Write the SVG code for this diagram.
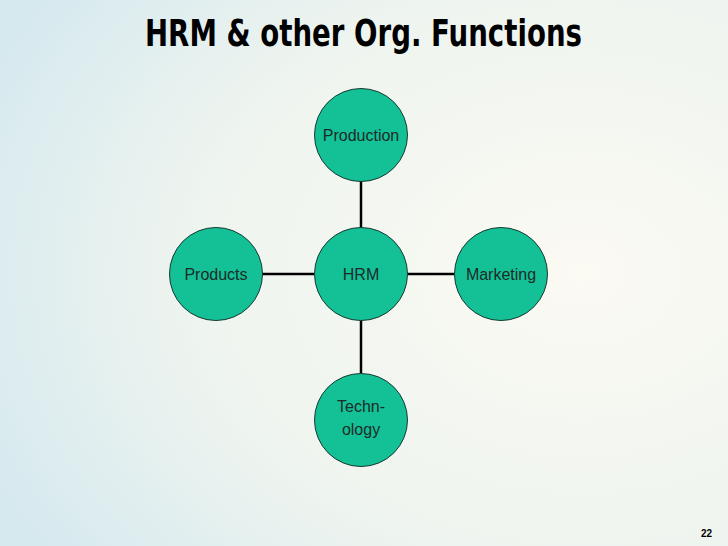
<svg xmlns="http://www.w3.org/2000/svg" width="728" height="546" viewBox="0 0 728 546">
<defs>
<radialGradient id="bg" cx="0.8" cy="0.5" r="0.9">
<stop offset="0" stop-color="#fbfaf3"/><stop offset="0.6" stop-color="#eef4ef"/><stop offset="1" stop-color="#d6e9ef"/>
</radialGradient>
<style>
.n{fill:#14c196;stroke:#1a3a30;stroke-width:1}
.t{font-family:"Liberation Sans",Arial,sans-serif;font-size:16px;fill:#1b2b27;text-anchor:middle}
.c{stroke:#000;stroke-width:2.5;fill:none}
</style>
</defs>
<rect width="728" height="546" fill="url(#bg)"/>
<text x="145" y="46" font-family="'DejaVu Sans',sans-serif" font-weight="bold" font-size="38" textLength="437" lengthAdjust="spacingAndGlyphs" fill="#000">HRM &amp; other Org. Functions</text>
<g id="connectors">
<line class="c" x1="361" y1="181" x2="361" y2="228"/>
<line class="c" x1="361" y1="320" x2="361" y2="374"/>
<line class="c" x1="262" y1="274" x2="314" y2="274"/>
<line class="c" x1="407" y1="274" x2="455" y2="274"/>
</g>
<g id="production"><circle class="n" cx="361" cy="135" r="46.5"/><text class="t" x="361" y="141">Production</text></g>
<g id="hrm"><circle class="n" cx="361" cy="274" r="46.5"/><text class="t" x="361" y="280">HRM</text></g>
<g id="products"><circle class="n" cx="216" cy="274" r="46.5"/><text class="t" x="216" y="280">Products</text></g>
<g id="marketing"><circle class="n" cx="501" cy="274" r="46.5"/><text class="t" x="501" y="280">Marketing</text></g>
<g id="technology"><circle class="n" cx="361" cy="420" r="46.5"/><text class="t" x="361" y="412">Techn-</text><text class="t" x="361" y="435">ology</text></g>
<text x="712" y="537" font-family="'Liberation Sans',Arial,sans-serif" font-weight="bold" font-size="10" text-anchor="end" fill="#000">22</text>
</svg>
